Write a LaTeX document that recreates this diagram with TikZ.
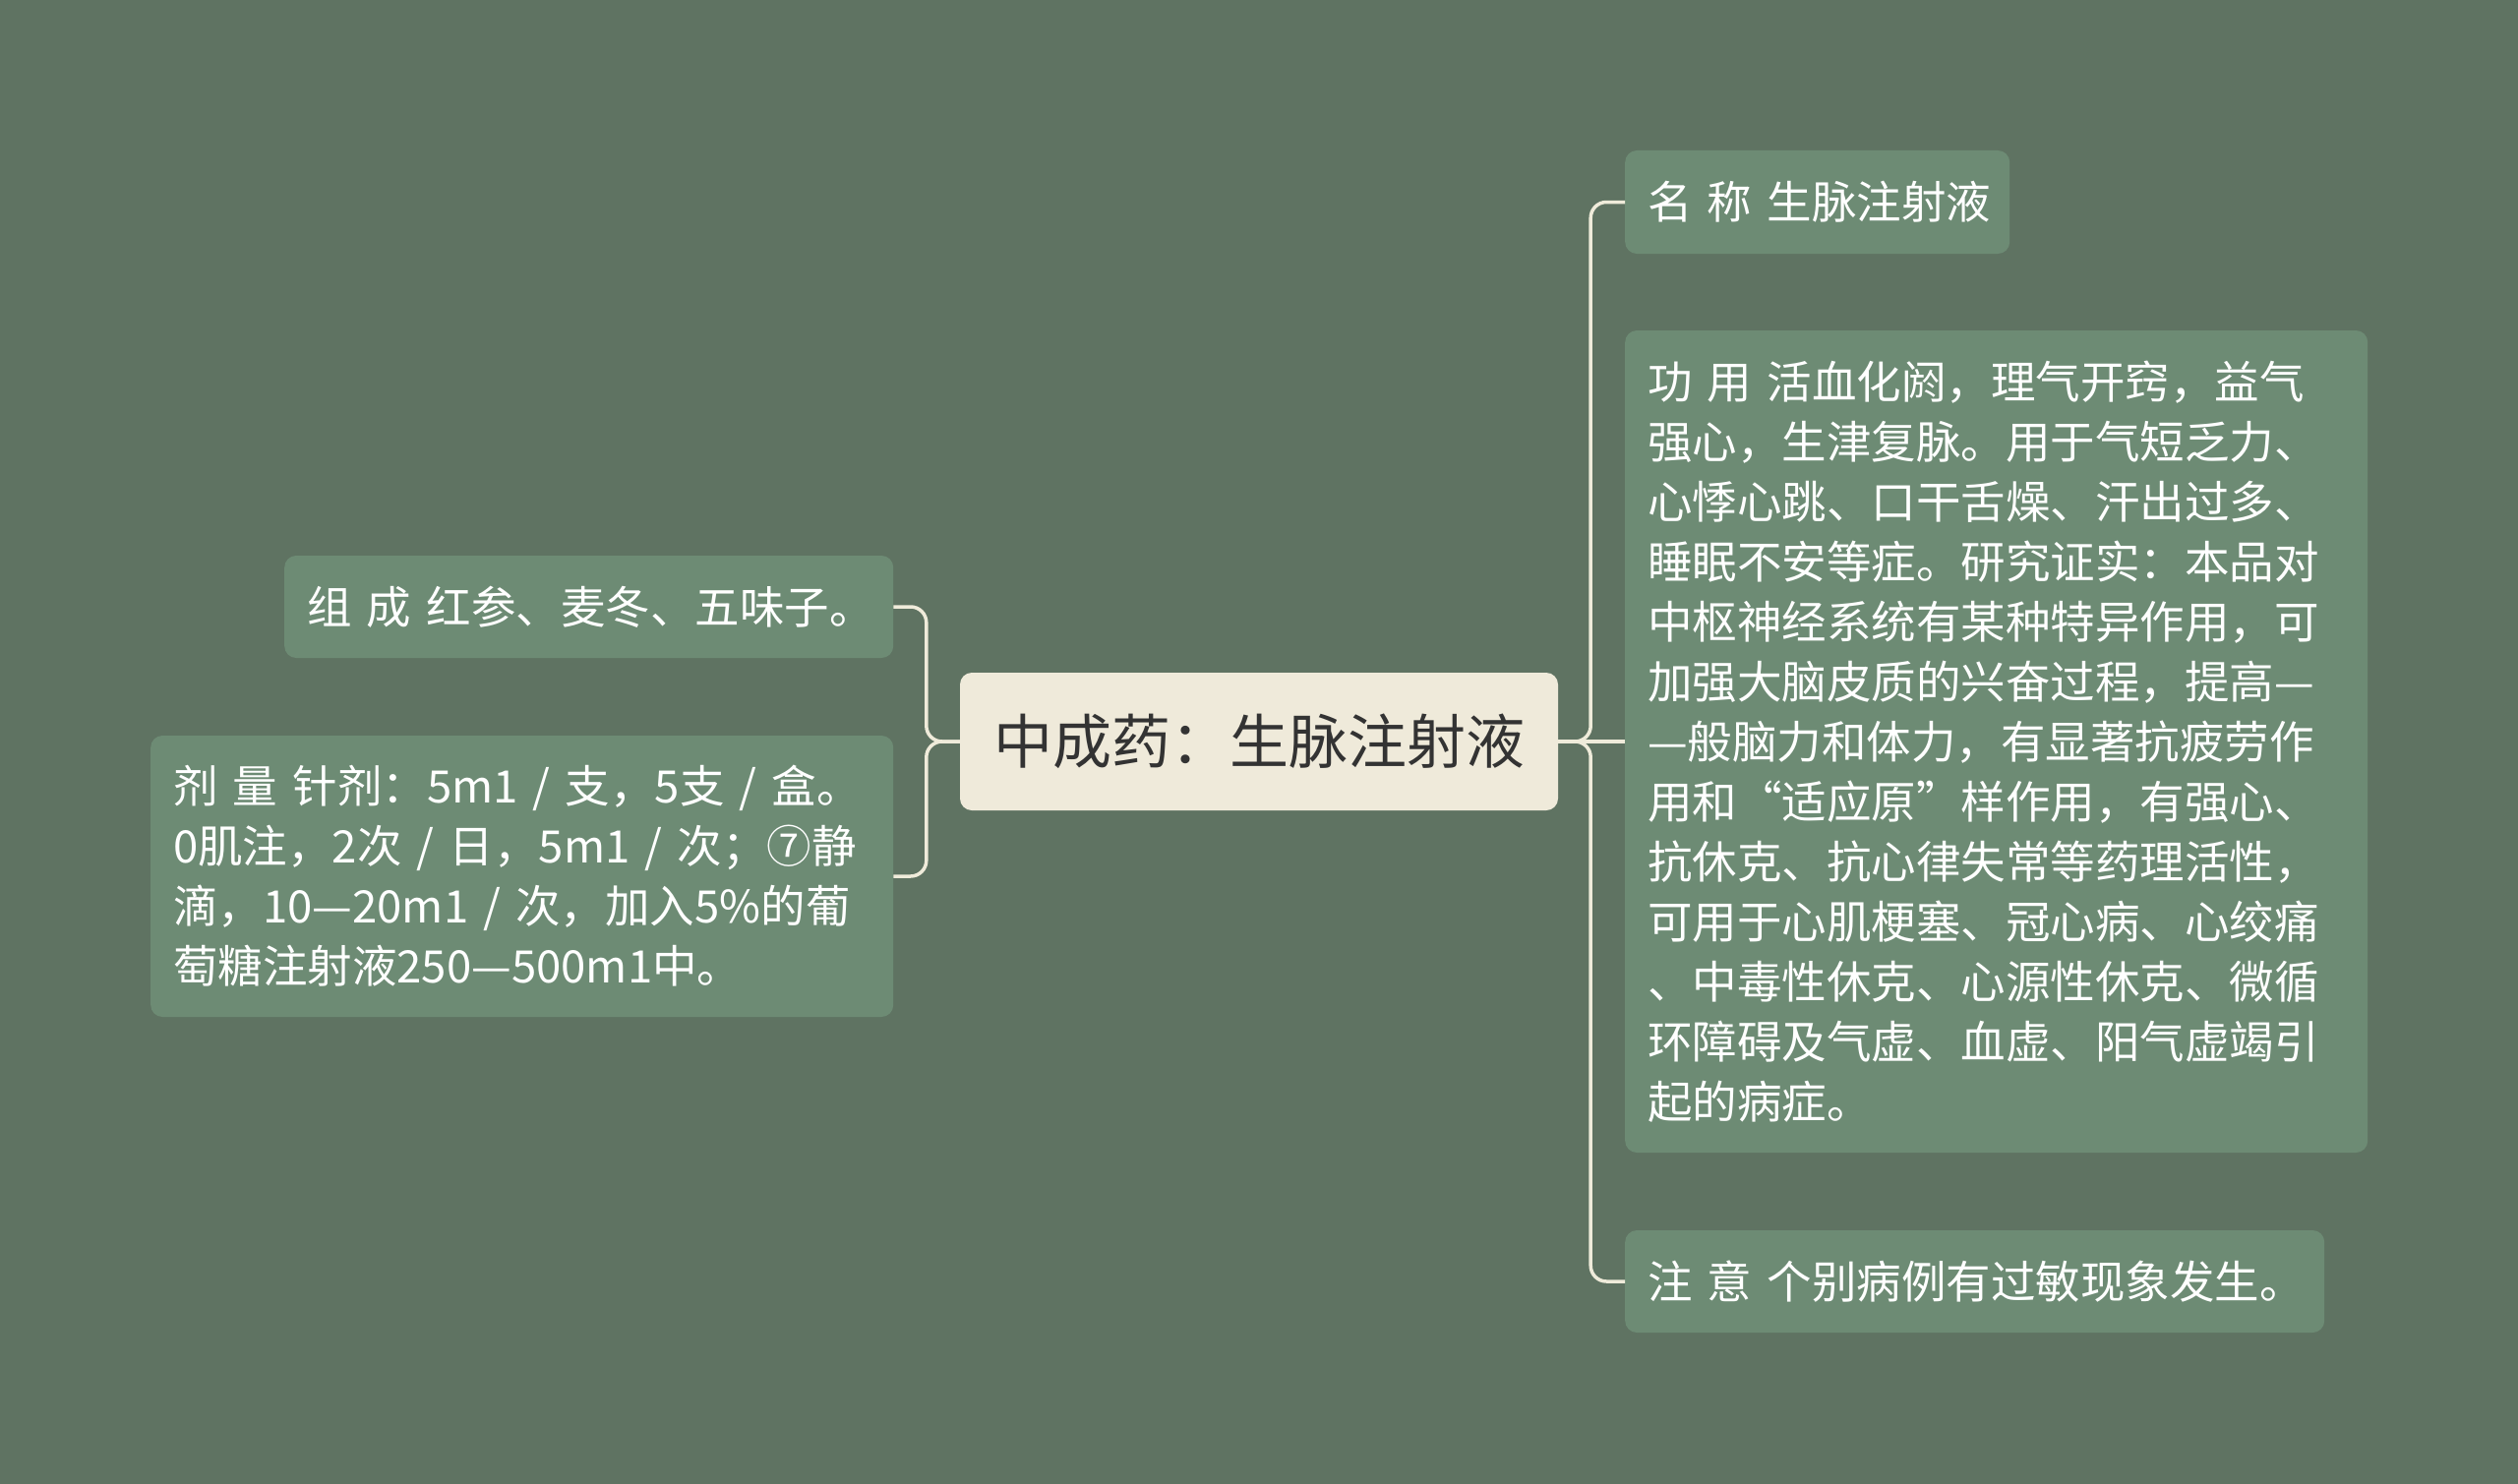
\documentclass[tikz,border=0pt]{standalone}
\usepackage{fontspec}
\setmainfont{Noto Sans CJK SC}
\definecolor{bgc}{HTML}{5F7362}
\definecolor{leafc}{HTML}{6D8B74}
\definecolor{linec}{HTML}{EFEBDA}
\definecolor{rootc}{HTML}{EFEADA}
\definecolor{roottext}{HTML}{333333}
\begin{document}
\begin{tikzpicture}[x=1pt,y=-1pt,
  leaf/.style={fill=leafc, rounded corners=12pt, text=white, align=left,
    inner xsep=23pt, inner ysep=0pt, anchor=west,
    font=\fontsize{45.5}{61}\selectfont},
  rootbox/.style={fill=rootc, rounded corners=12pt, text=roottext,
    minimum width=608pt, minimum height=140pt, inner sep=0pt,
    font=\fontsize{60}{72}\selectfont},
  conn/.style={draw=linec, line width=3.5pt, rounded corners=16pt}
]
\fill[bgc] (0,0) rectangle (2560,1509);
\useasboundingbox (0,0) rectangle (2560,1509);

\node[rootbox] (c) at (1280,754) {中成药：生脉注射液};

\node[leaf, text width=573pt, minimum height=104pt] (zc) at (289,617) {\mbox{组 成 红参、麦冬、五味子。}};
\node[leaf, text width=709pt, minimum height=286pt] (jl) at (153,891)
  {\mbox{剂 量 针剂：5m1 / 支，5支 / 盒。}\\\mbox{0肌注，2次 / 日，5m1 / 次；⑦静}\\\mbox{滴，10—20m1 / 次，加入5\%的葡}\\萄糖注射液250—500m1中。};

\node[leaf, text width=345pt, minimum height=105pt] (mc) at (1652,205.5) {\mbox{名 称 生脉注射液}};
\node[leaf, text width=709pt, minimum height=836pt] (gy) at (1652,754)
  {\mbox{功 用 活血化阏，理气开窍，益气}\\强心，生津复脉。用于气短乏力、\\心悸心跳、口干舌燥、汗出过多、\\睡眠不安等症。研究证实：本品对\\中枢神经系统有某种特异作用，可\\加强大脑皮质的兴奋过程，提高—\\—般脑力和体力，有显著抗疲劳作\\用和“适应原”样作用，有强心、\\抗休克、抗心律失常等药理活性，\\可用于心肌梗塞、冠心病、心绞痛\\、中毒性休克、心源性休克、微循\\环障碍及气虚、血虚、阳气虚竭引\\起的病症。};
\node[leaf, text width=665pt, minimum height=104pt] (zy) at (1652,1303) {\mbox{注 意 个别病例有过敏现象发生。}};

\draw[conn] (c.east) -- (gy.west);
\draw[conn] (c.east) -- ++(33,0) |- (mc.west);
\draw[conn] (c.east) -- ++(33,0) |- (zy.west);
\draw[conn] (c.west) -- ++(-34,0) |- (zc.east);
\draw[conn] (c.west) -- ++(-34,0) |- (jl.east);
\end{tikzpicture}
\end{document}
